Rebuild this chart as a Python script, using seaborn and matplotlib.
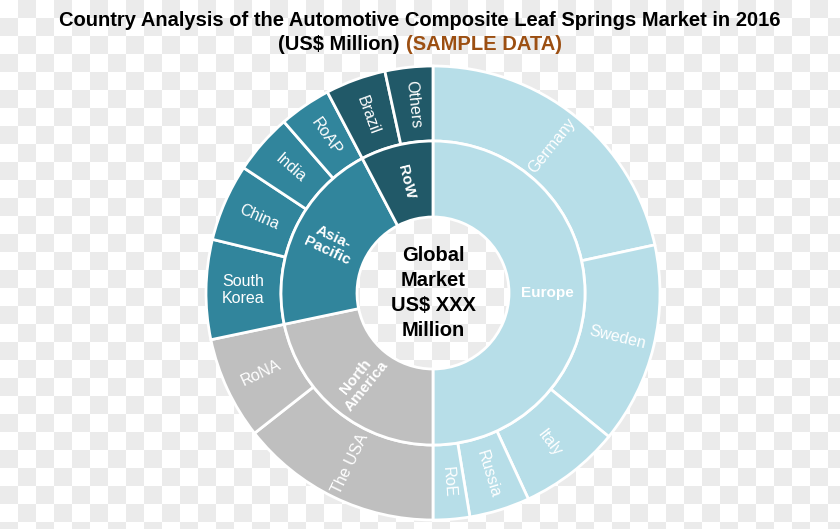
import numpy as np
import matplotlib
matplotlib.use("Agg")
import matplotlib.pyplot as plt
import seaborn as sns

sns.set_style("white")
plt.rcParams['font.family'] = ['Liberation Sans', 'DejaVu Sans']

# ---- data ----
regions = ["Europe", "North America", "Asia-Pacific", "RoW"]
region_labels = ["Europe", "North\nAmerica", "Asia-\nPacific", "RoW"]
region_values = [50.0, 21.7, 20.6, 7.7]
countries = ["Germany", "Sweden", "Italy", "Russia", "RoE",
             "The USA", "RoNA",
             "South\nKorea", "China", "India", "RoAP",
             "Brazil", "Others"]
country_values = [21.6, 14.3, 7.2, 4.3, 2.6,
                  14.4, 7.3,
                  7.1, 5.5, 4.3, 3.7,
                  4.3, 3.4]
country_region = ["Europe"] * 5 + ["North America"] * 2 + ["Asia-Pacific"] * 4 + ["RoW"] * 2
region_colors = {"Europe": "#b7dee8", "North America": "#bfbfbf",
                 "Asia-Pacific": "#31859c", "RoW": "#215968"}

W, H = 840, 529
fig = plt.figure(figsize=(W / 100, H / 100), dpi=100)

# checkerboard background (transparency pattern of the reference)
bg = fig.add_axes([0, 0, 1, 1])
sq = 18
ny, nx = int(np.ceil(H / sq)), int(np.ceil(W / sq))
board = (np.add.outer(np.arange(ny), np.arange(nx)) % 2).astype(float)
bg.imshow(board, cmap=matplotlib.colors.ListedColormap(["#ffffff", "#ebebeb"]),
          extent=[0, nx * sq, ny * sq, 0], interpolation="nearest")
bg.set_xlim(0, W)
bg.set_ylim(H, 0)
bg.axis("off")

# pie axes: center (433, 293) px, outer radius 227 px
cx, cy, R = 433, 293, 227
ax = fig.add_axes([(cx - R) / W, (H - cy - R) / H, 2 * R / W, 2 * R / H])
ax.axis("off")

r_outer, r_mid, r_hole = 1.0, 152 / 227, 76 / 227

outer_colors = [region_colors[r] for r in country_region]
inner_colors = [region_colors[r] for r in regions]

ax.pie(country_values, radius=r_outer, startangle=90, counterclock=False,
       colors=outer_colors, normalize=True,
       wedgeprops=dict(width=r_outer - r_mid, edgecolor="white", linewidth=2))
ax.pie(region_values, radius=r_mid, startangle=90, counterclock=False,
       colors=inner_colors, normalize=True,
       wedgeprops=dict(width=r_mid - r_hole, edgecolor="white", linewidth=2))
ax.set_xlim(-1.0, 1.0)
ax.set_ylim(-1.0, 1.0)


def place_labels(values, labels, radius, **kw):
    total = sum(values)
    cum = 0.0
    for v, lab in zip(values, labels):
        mid_cw = (cum + v / 2) / total * 360.0
        cum += v
        theta = 90.0 - mid_cw
        x = radius * np.cos(np.radians(theta))
        y = radius * np.sin(np.radians(theta))
        rot = theta
        while rot <= -180:
            rot += 360
        while rot > 180:
            rot -= 360
        if rot < -90 or rot > 90:
            rot += 180 if rot < 0 else -180
        if lab in ("Europe", "South\nKorea"):
            rot = 0
        ax.text(x, y, lab, rotation=rot, rotation_mode="anchor",
                ha="center", va="center", color="white", **kw)


place_labels(country_values, countries, (r_outer + r_mid) / 2, fontsize=11.5,
             linespacing=1.15)
place_labels(region_values, region_labels, (r_mid + r_hole) / 2, fontsize=11,
             fontweight="bold", linespacing=1.1)

ax.text(0, 0, "Global\nMarket\nUS$ XXX\nMillion", ha="center", va="center",
        fontsize=14.5, fontweight="bold", color="black", linespacing=1.4)

# title
title_font = ['Liberation Sans Narrow', 'Liberation Sans', 'DejaVu Sans']
fig.text(0.5, 1 - 20 / H, "Country Analysis of the Automotive Composite Leaf Springs Market in 2016",
         ha="center", va="center", fontsize=14.5, fontweight="bold",
         family=title_font, color="black")
t1 = fig.text(0.5, 1 - 44 / H, "(US$ Million) ", ha="right", va="center",
              fontsize=14.5, fontweight="bold", family=title_font, color="black")
fig.canvas.draw()
bb = t1.get_window_extent()
w1 = bb.width / W
t2 = fig.text(0.5, 1 - 44 / H, "(SAMPLE DATA)", ha="left", va="center",
              fontsize=14.5, fontweight="bold", family=title_font, color="#9c4f12")
fig.canvas.draw()
w2 = t2.get_window_extent().width / W
shift = (w1 - w2) / 2
t1.set_x(0.5 + shift)
t2.set_x(0.5 + shift)

fig.savefig("out.png", dpi=100)
